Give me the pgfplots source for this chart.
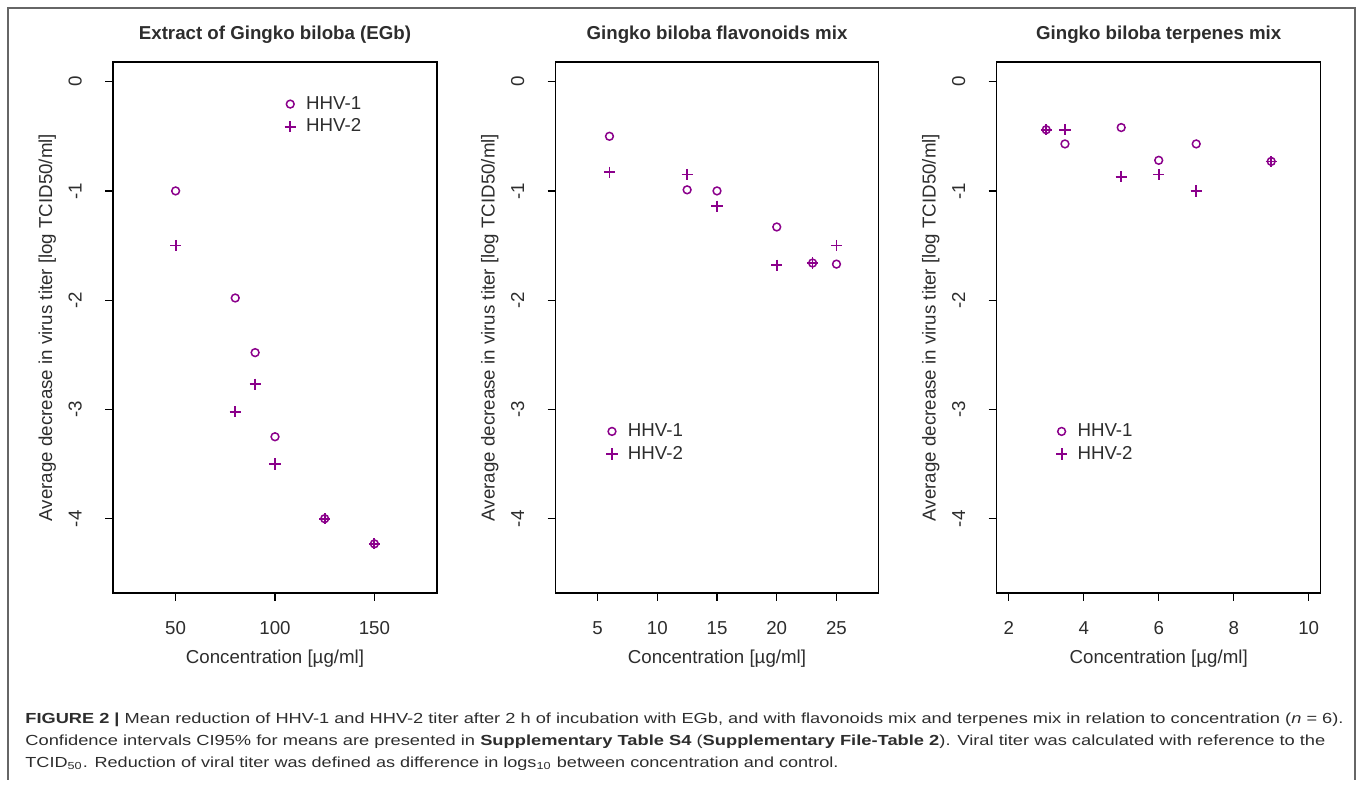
\documentclass[border=0pt]{standalone}
\usepackage{pgfplots}
\pgfplotsset{compat=1.18}
\usepackage{fontspec}
\usepackage{graphicx}
\setmainfont{Liberation Sans}
\definecolor{pmag}{RGB}{139,0,139}
\definecolor{txt}{RGB}{45,45,45}
\newcommand{\chf}{\fontsize{9.35pt}{11pt}\selectfont}
\pgfplotsset{
  panel/.style={
    scale only axis, width=162pt, height=265.5pt, anchor=south west,
    ymin=-4.68, ymax=0.18,
    ytick={-4,-3,-2,-1,0}, yticklabels={-4,-3,-2,-1,0},
    tick align=outside, xtick pos=bottom, ytick pos=left,
    major tick length=4pt,
    axis line style={line width=0.65pt},
    every tick/.style={black, line width=0.65pt},
    tick label style={font=\chf, text=txt},
    yticklabel style={xshift=-11.75pt, rotate=90, anchor=base},
    xticklabel style={anchor=base, yshift=-16.65pt},
    every axis x label/.style={at={(axis description cs:0.5,0)}, anchor=base, yshift=-35.5pt, font=\chf, text=txt},
    every axis y label/.style={at={(axis description cs:0,0.5)}, xshift=-30.5pt, rotate=90, anchor=base, font=\chf, text=txt},
    every axis title/.style={at={(axis description cs:0.5,1)}, anchor=base, yshift=11pt, font=\chf\bfseries, text=txt},
    xlabel={Concentration [µg/ml]},
    ylabel={Average decrease in virus titer [log TCID50/ml]},
    legend style={draw=none, fill=none, font=\chf, text=txt, inner sep=0pt, row sep=1.3pt, nodes={inner sep=1pt}},
    legend cell align=left,
    legend image code/.code={\draw[mark repeat=2,mark phase=2,##1] plot coordinates {(0pt,0pt)(3pt,0pt)(6pt,0pt)}; \path (0pt,0pt) (9.5pt,0pt);},
  },
  h1/.style={only marks, mark=o, mark size=1.95pt, line width=0.75pt, color=pmag, mark options={draw=pmag}},
  h2/.style={only marks, mark=+, mark size=2.8pt, line width=0.9pt, color=pmag, mark options={draw=pmag}},
}
\begin{document}
\begin{tikzpicture}
\path[use as bounding box] (0,0) rectangle (679pt,392.5pt);
\draw[black!60, line width=0.75pt] (4pt,2.5pt) -- (4pt,388.5pt) -- (677.5pt,388.5pt) -- (677.5pt,2.5pt);

\begin{axis}[panel, at={(56.5pt,96pt)}, xmin=18.5, xmax=181.5,
  xtick={50,100,150}, xticklabels={50,100,150},
  title={Extract of Gingko biloba (EGb)},
  legend style={at={(axis cs:104.0,-0.309)}, anchor=west}]
\addplot[h1] coordinates {(50,-1.0) (80,-1.98) (90,-2.48) (100,-3.25) (125,-4.0) (150,-4.23)};
\addplot[h2] coordinates {(50,-1.5) (80,-3.02) (90,-2.77) (100,-3.5) (125,-4.0) (150,-4.23)};
\legend{HHV-1,HHV-2}
\end{axis}

\begin{axis}[panel, at={(277.85pt,96pt)}, width=161.3pt, xmin=1.5, xmax=28.5,
  xtick={5,10,15,20,25}, xticklabels={5,10,15,20,25},
  title={Gingko biloba flavonoids mix},
  legend style={at={(axis cs:5.60,-3.305)}, anchor=west}]
\addplot[h1] coordinates {(6,-0.50) (12.5,-0.99) (15,-1.0) (20,-1.33) (23,-1.66) (25,-1.67)};
\addplot[h2] coordinates {(6,-0.83) (12.5,-0.85) (15,-1.14) (20,-1.68) (23,-1.66) (25,-1.50)};
\legend{HHV-1,HHV-2}
\end{axis}

\begin{axis}[panel, at={(498.35pt,96pt)}, xmin=1.68, xmax=10.32,
  xtick={2,4,6,8,10}, xticklabels={2,4,6,8,10},
  title={Gingko biloba terpenes mix},
  legend style={at={(axis cs:3.216,-3.305)}, anchor=west}]
\addplot[h1] coordinates {(3,-0.44) (3.5,-0.57) (5,-0.42) (6,-0.72) (7,-0.57) (9,-0.73)};
\addplot[h2] coordinates {(3,-0.44) (3.5,-0.44) (5,-0.87) (6,-0.85) (7,-1.0) (9,-0.73)};
\legend{HHV-1,HHV-2}
\end{axis}

\begin{scope}[every node/.style={anchor=base west, inner sep=0pt, text=txt, font=\fontsize{7.3pt}{9pt}\selectfont}]
\node at (12.5pt,30.75pt) {\resizebox{659pt}{\height}{\textbf{FIGURE 2 |} Mean reduction of HHV-1 and HHV-2 titer after 2 h of incubation with EGb, and with flavonoids mix and terpenes mix in relation to concentration (\textit{n} = 6).}};
\node at (12.5pt,19.75pt) {\resizebox{650pt}{\height}{Confidence intervals CI95\% for means are presented in \textbf{Supplementary Table S4} (\textbf{Supplementary File-Table 2}). Viral titer was calculated with reference to the}};
\node at (12.5pt,8.75pt) {\resizebox{406.5pt}{\height}{TCID\textsubscript{50}. Reduction of viral titer was defined as difference in logs\textsubscript{10} between concentration and control.}};
\end{scope}
\end{tikzpicture}
\end{document}
